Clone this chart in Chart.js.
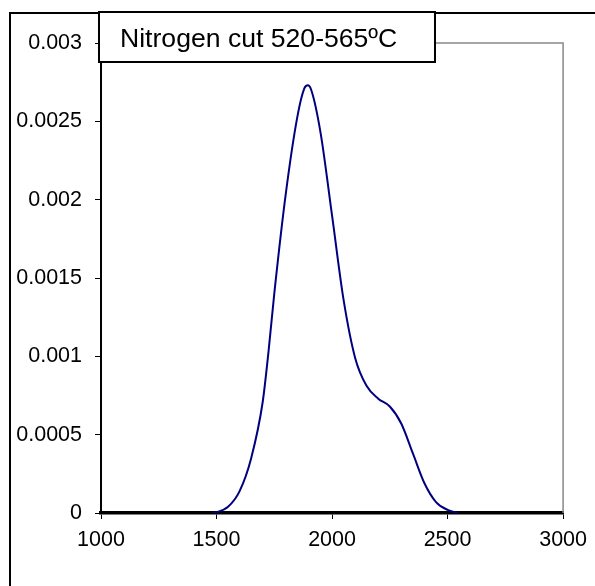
<!DOCTYPE html>
<html>
<head>
<meta charset="utf-8">
<script src="https://cdn.jsdelivr.net/npm/chart.js@4.4.0/dist/chart.umd.min.js"></script>
<style>
    html, body { margin: 0; padding: 0; background: #fff; }
    #wrap { width: 595px; height: 586px; position: relative; }
</style>
</head>
<body>
<div id="wrap"><canvas id="densityChart" width="595" height="586"></canvas></div>
<script>
// Curve (boiling temperature vs density)
const temps = [1480, 1500, 1550, 1600, 1650, 1700, 1725, 1750, 1800, 1850, 1880, 1895, 1910, 1950, 2000, 2050, 2100, 2150, 2200, 2250, 2300, 2350, 2400, 2450, 2500, 2545];
const density = [0, 0.000005, 0.00004, 0.00014, 0.00035, 0.00071, 0.00103, 0.0014, 0.00204, 0.00253, 0.00271, 0.00273, 0.00270, 0.00243, 0.0019, 0.00136, 0.00099, 0.00081, 0.00073, 0.00068, 0.00057, 0.00038, 0.00019, 0.00007, 0.00002, 0];
const xTickLabels = ['1000', '1500', '2000', '2500', '3000'];
const yTickLabels = ['0', '0.0005', '0.001', '0.0015', '0.002', '0.0025', '0.003'];
const titleText = 'Nitrogen cut 520-565ºC';

const FONT = '"Liberation Sans", Arial, sans-serif';

// outer frame, gray plot edges and the boxed title
const framePlugin = {
    id: 'frame',
    afterDraw(chart) {
        const ctx = chart.ctx;
        const a = chart.chartArea;
        ctx.save();
        // gray top and right edges of the plot
        ctx.strokeStyle = '#888888';
        ctx.lineWidth = 1.5;
        ctx.beginPath();
        ctx.moveTo(a.left, a.top);
        ctx.lineTo(a.right, a.top);
        ctx.lineTo(a.right, a.bottom);
        ctx.stroke();
        // outer frame (runs off the right and bottom)
        ctx.strokeStyle = '#000';
        ctx.lineWidth = 2;
        ctx.beginPath();
        ctx.moveTo(10, 600);
        ctx.lineTo(10, 13);
        ctx.lineTo(600, 13);
        ctx.stroke();
        // title box
        ctx.fillStyle = '#fff';
        ctx.fillRect(99, 12, 336, 50);
        ctx.lineWidth = 2;
        ctx.strokeRect(99, 12, 336, 50);
        ctx.fillStyle = '#000';
        ctx.font = '26.6px ' + FONT;
        ctx.textBaseline = 'alphabetic';
        ctx.textAlign = 'left';
        ctx.fillText(titleText, 120, 47);
        ctx.restore();
    }
};

const ctx = document.getElementById('densityChart');
new Chart(ctx.getContext('2d'), {
    type: 'scatter',
    data: {
        datasets: [{
            data: temps.map((t, i) => ({ x: t, y: density[i] })),
            showLine: true,
            borderColor: '#000080',
            borderWidth: 2,
            pointRadius: 0,
            cubicInterpolationMode: 'monotone',
            fill: false
        }]
    },
    options: {
        responsive: false,
        animation: false,
        layout: { padding: { left: 10, right: 31, top: 43, bottom: 0 } },
        plugins: {
            legend: { display: false },
            tooltip: { enabled: false }
        },
        scales: {
            x: {
                type: 'linear',
                min: 1000,
                max: 3000,
                afterFit(scale) { scale.height = 73; },
                ticks: {
                    stepSize: 500,
                    color: '#000',
                    padding: 8,
                    maxRotation: 0,
                    font: { family: FONT, size: 21.5 },
                    callback: (v, i) => xTickLabels[i]
                },
                grid: { drawOnChartArea: false, drawTicks: true, tickLength: 6, color: '#000', lineWidth: 1 },
                border: { display: true, color: '#000', width: 3.5 }
            },
            y: {
                min: 0,
                max: 0.003,
                afterFit(scale) { scale.width = 91; },
                ticks: {
                    stepSize: 0.0005,
                    color: '#000',
                    padding: 13,
                    font: { family: FONT, size: 21.5 },
                    callback: (v, i) => yTickLabels[i]
                },
                grid: { drawOnChartArea: false, drawTicks: true, tickLength: 6, color: '#000', lineWidth: 1 },
                border: { display: true, color: '#000', width: 2 }
            }
        }
    },
    plugins: [framePlugin]
});
</script>
</body>
</html>
